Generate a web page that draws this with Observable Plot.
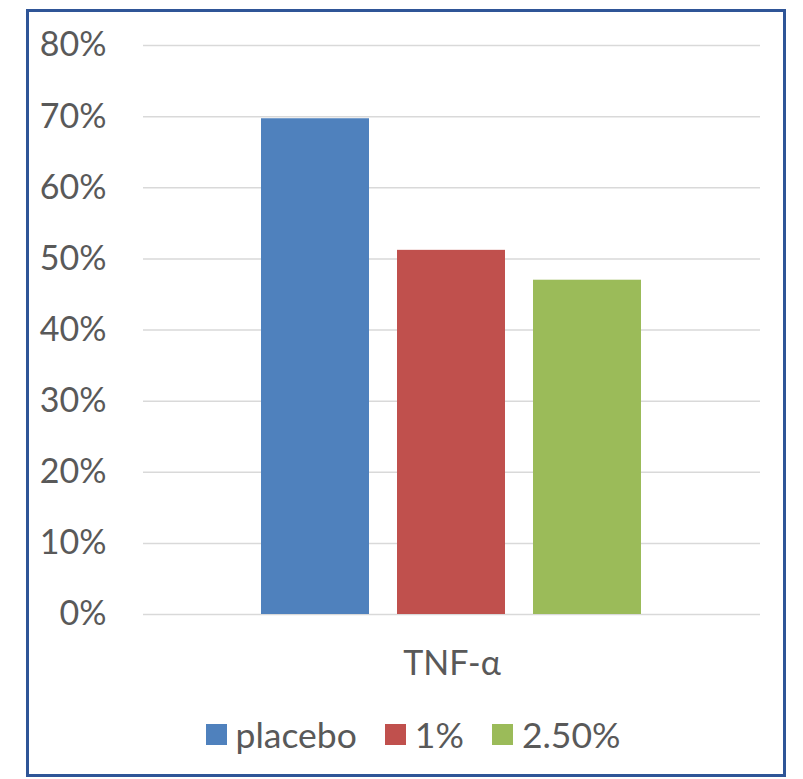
<!DOCTYPE html>
<html>
<head>
<meta charset="utf-8">
<script src="https://cdn.jsdelivr.net/npm/d3@7"></script>
<script src="https://cdn.jsdelivr.net/npm/@observablehq/plot@0.6"></script>
<style>
  html, body { margin: 0; padding: 0; background: #fff; }
  #wrap { position: relative; width: 803px; height: 779px; font-family: Lato, "Open Sans", sans-serif; }
  #frame { position: absolute; left: 26px; top: 9px; width: 754px; height: 762px; border: 3px solid #2F5597; box-sizing: content-box; }
  #chart { position: absolute; left: 0; top: 0; }
  #legend { position: absolute; left: 0; top: 713px; width: 826px; display: flex; justify-content: center; align-items: center; color: #595959; font-size: 35.5px; }
  #legend .item { display: flex; align-items: center; margin: 0 14px; }
  #legend .sw { width: 21px; height: 21px; margin-right: 9px; }
</style>
</head>
<body>
<div id="wrap">
  <div id="frame"></div>
  <div id="chart"></div>
  <div id="legend"></div>
</div>
<script>
// Share of subjects by treatment group, TNF-α
const category = "TNF-α";
const series = ["placebo", "1%", "2.50%"];
const values = [0.697, 0.512, 0.470];
const colors = ["#4F81BD", "#C0504D", "#9BBB59"];
const yTicks = [0, 0.1, 0.2, 0.3, 0.4, 0.5, 0.6, 0.7, 0.8];

const rows = series.map((s, i) => ({category, series: s, value: values[i]}));

const plot = Plot.plot({
  width: 803,
  height: 700,
  marginLeft: 143,
  marginRight: 43,
  marginTop: 45,
  marginBottom: 86,
  style: {fontFamily: "Lato, 'Open Sans', sans-serif", fontSize: "34px", color: "#595959", background: "transparent"},
  fx: {domain: [category], padding: 0, label: null, axis: "bottom", tickSize: 0, tickPadding: 36},
  x: {domain: series, paddingInner: 0.204, paddingOuter: 0.854, axis: null},
  y: {domain: [0, 0.8], ticks: yTicks, tickFormat: d3.format(".0%"), tickSize: 0, tickPadding: 37, label: null},
  color: {domain: series, range: colors},
  marks: [
    Plot.ruleY(yTicks, {stroke: "#d9d9d9", strokeWidth: 1.5}),
    Plot.barY(rows, {fx: "category", x: "series", y: "value", fill: "series"})
  ]
});
document.getElementById("chart").appendChild(plot);

// Legend built from the plot's own color scale
const color = plot.scale("color");
const legend = d3.select("#legend");
series.forEach(s => {
  const item = legend.append("div").attr("class", "item");
  item.append("div").attr("class", "sw").style("background", color.apply(s));
  item.append("span").text(s);
});
</script>
</body>
</html>
